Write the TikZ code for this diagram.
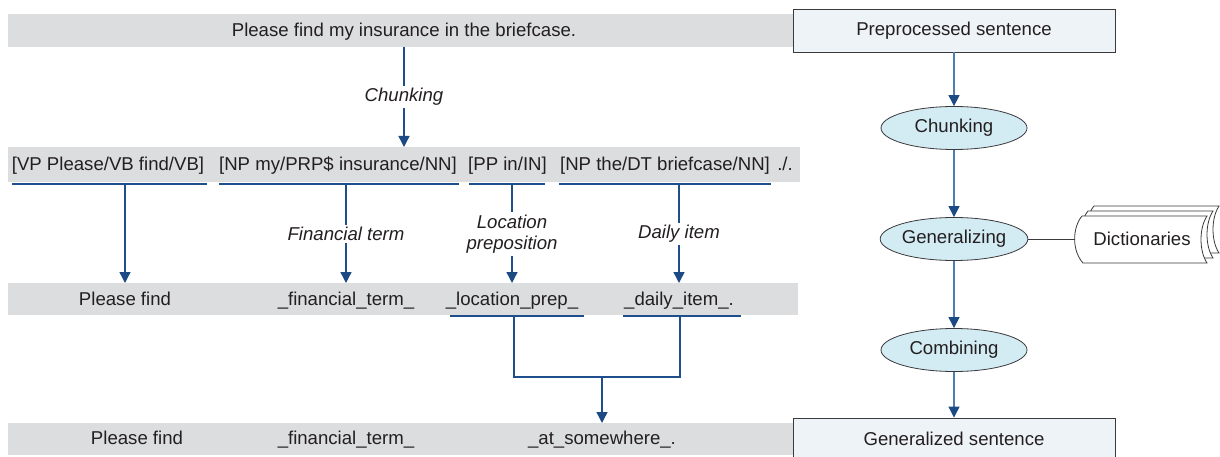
\documentclass[tikz,border=0pt]{standalone}
\usepackage{fontspec}
\setmainfont{Liberation Sans}
\usetikzlibrary{arrows.meta,shapes.geometric}
\definecolor{barc}{HTML}{DCDDDF}
\definecolor{textc}{HTML}{231F20}
\definecolor{linec}{HTML}{1F4E8C}
\definecolor{linec2}{HTML}{4F7DB3}
\definecolor{tipc}{HTML}{1B4A84}
\definecolor{boxfill}{HTML}{EEF3F8}
\definecolor{boxline}{HTML}{3A3A3C}
\definecolor{ellfill}{HTML}{D3EBF2}
\tikzset{
  txt/.style={font=\fontsize{18.6}{21}\selectfont, text=textc, inner sep=0pt},
  lbl/.style={font=\fontsize{18.6}{21}\selectfont\itshape, text=textc, fill=white, inner sep=2.5pt, align=center},
  conn/.style={draw=linec, line width=1.4pt, -{Triangle[width=11pt,length=11pt,color=tipc]}},
  conn2/.style={draw=linec2, line width=1.1pt, -{Triangle[width=11pt,length=11pt,color=tipc]}},
  uline/.style={draw=linec, line width=2.2pt},
  joinline/.style={draw=linec, line width=1.4pt},
  bar/.style={fill=barc},
  sbox/.style={draw=boxline, fill=boxfill, line width=0.9pt, minimum width=322pt, minimum height=43pt, inner sep=0pt, font=\fontsize{18.6}{21}\selectfont, text=textc},
  proc/.style={ellipse, draw=boxline, fill=ellfill, line width=0.8pt, minimum width=146pt, minimum height=43pt, inner sep=0pt, font=\fontsize{18.6}{21}\selectfont, text=textc},
  page/.style={draw=boxline, fill=white, line width=0.8pt},
  thin/.style={draw=boxline, line width=0.8pt}
}
\begin{document}
\begin{tikzpicture}[x=1pt,y=-1pt]
\useasboundingbox (0,0) rectangle (1220,457);

% grey bars
\fill[bar] (8,14) rectangle (800,47);
\fill[bar] (8,147) rectangle (800,182);
\fill[bar] (8,283) rectangle (798,315);
\fill[bar] (8,423) rectangle (800,455);

% row 1
\node[txt,anchor=base] (s1) at (404,37) {Please find my insurance in the briefcase.};
\coordinate (c1a) at (404,47);
\coordinate (c1b) at (404,147);
\draw[conn] (c1a) -- node[lbl] (lchunk) {Chunking} (c1b);

% row 2
\node[txt,anchor=base] (vp) at (108,171) {[VP Please/VB find/VB]};
\node[txt,anchor=base] (np1) at (338,171) {[NP my/PRP\$ insurance/NN]};
\node[txt,anchor=base] (pp) at (507.5,171) {[PP in/IN]};
\node[txt,anchor=base] (np2) at (665,171) {[NP the/DT briefcase/NN]};
\node[txt,anchor=base] (dot) at (785,171) {./.};

\draw[uline] (12,184) -- (207,184);
\draw[uline] (219,184) -- (459,184);
\draw[uline] (469,184) -- (545,184);
\draw[uline] (559,184) -- (771,184);

\coordinate (a1) at (125,185); \coordinate (b1) at (125,283);
\coordinate (a2) at (346,185); \coordinate (b2) at (346,283);
\coordinate (a3) at (512,185); \coordinate (b3) at (512,283);
\coordinate (a4) at (679,185); \coordinate (b4) at (679,283);
\draw[conn] (a1) -- (b1);
\draw[conn] (a2) -- node[lbl] (lfin) {Financial term} (b2);
\draw[conn] (a3) -- node[lbl] (lloc) {Location\\preposition} (b3);
\draw[conn] (a4) -- node[lbl] (ldaily) {Daily item} (b4);

% row 3
\node[txt,anchor=base] (r3a) at (125,305) {Please find};
\node[txt,anchor=base] (r3b) at (346,305) {\_financial\_term\_};
\node[txt,anchor=base] (r3c) at (512,305) {\_location\_prep\_};
\node[txt,anchor=base] (r3d) at (679,305) {\_daily\_item\_.};

\draw[uline] (450,316) -- (584,316);
\draw[uline] (623,316) -- (741,316);

\coordinate (j1) at (514,317);
\coordinate (j2) at (680,317);
\coordinate (jm) at (602,377);
\coordinate (je) at (602,423);
\draw[joinline] (j1) |- (jm) -| (j2);
\draw[conn] (jm) -- (je);

% row 4
\node[txt,anchor=base] (r4a) at (137,444) {Please find};
\node[txt,anchor=base] (r4b) at (346,444) {\_financial\_term\_};
\node[txt,anchor=base] (r4c) at (602,444) {\_at\_somewhere\_.};

% right column
\node[sbox] (pre) at (954,30.5) {Preprocessed sentence};
\node[proc] (chunk) at (954,128) {Chunking};
\node[proc] (gen) at (954,239) {Generalizing};
\node[proc] (comb) at (954,350) {Combining};
\node[sbox, minimum height=42pt] (gsent) at (954,439) {Generalized sentence};

\draw[conn2] (pre.south) -- (chunk.north);
\draw[conn2] (chunk.south) -- (gen.north);
\draw[conn2] (gen.south) -- (comb.north);
\draw[conn2] (comb.south) -- (gsent.north);

% dictionaries
\foreach \dx/\dy in {12/-10, 6/-5, 0/0} {
  \begin{scope}[shift={(\dx,\dy)}]
    \draw[page] (1082,216) -- (1207,216)
      .. controls (1199,228) and (1199,251) .. (1207,263)
      -- (1083,263)
      .. controls (1072,251) and (1072,228) .. cycle;
  \end{scope}
}
\node[txt] (dict) at (1142,239) {Dictionaries};
\coordinate (dictw) at (1075,239);
\draw[thin] (gen.east) -- (dictw);
\end{tikzpicture}
\end{document}
